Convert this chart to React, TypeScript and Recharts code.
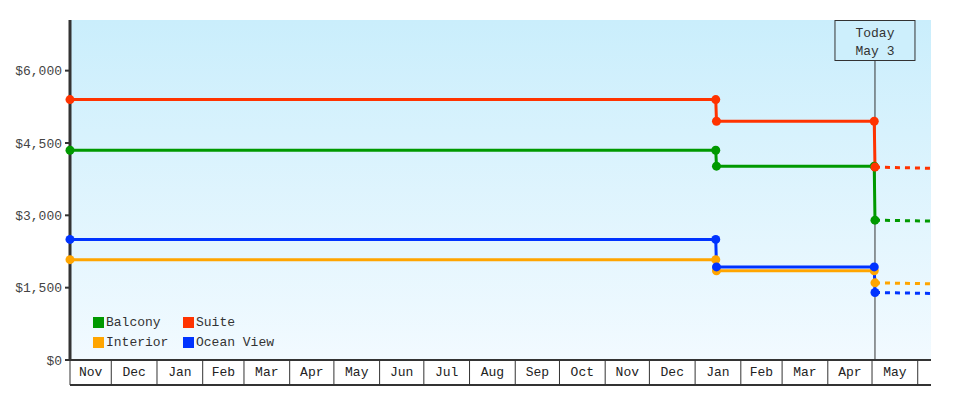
import React from "react";
import {
  LineChart,
  Line,
  XAxis,
  YAxis,
  CartesianGrid,
  ReferenceLine,
  Legend,
} from "recharts";

// price history (dates are UTC)
const changeDates = [
  "2021-11-03T00:00Z",
  "2023-01-15T00:00Z",
  "2023-01-15T12:00Z",
  "2023-05-02T12:00Z",
  "2023-05-03T00:00Z",
];
const interiorPrices = [2080, 2080, 1850, 1850, 1600];
const balconyPrices = [4350, 4350, 4020, 4020, 2900];
const oceanViewPrices = [2500, 2500, 1930, 1930, 1400];
const suitePrices = [5400, 5400, 4950, 4950, 4000];

// forecast after today
const forecastDates = ["2023-05-03T00:00Z", "2023-06-10T00:00Z"];
const interiorForecast = [1600, 1580];
const balconyForecast = [2900, 2880];
const oceanViewForecast = [1400, 1380];
const suiteForecast = [4000, 3975];

const rangeStart = "2021-11-03T00:00Z";
const rangeEnd = "2023-06-10T00:00Z";
const today = "2023-05-03T00:00Z";
const todayText = ["Today", "May 3"];

// month cells under the plot
const cellEdges = [
  "2021-11-03", "2021-12-01", "2022-01-01", "2022-02-01", "2022-03-01",
  "2022-04-01", "2022-05-01", "2022-06-01", "2022-07-01", "2022-08-01",
  "2022-09-01", "2022-10-01", "2022-11-01", "2022-12-01", "2023-01-01",
  "2023-02-01", "2023-03-01", "2023-04-01", "2023-05-01", "2023-06-01",
];
const monthLabels = [
  "Nov", "Dec", "Jan", "Feb", "Mar", "Apr", "May", "Jun", "Jul", "Aug",
  "Sep", "Oct", "Nov", "Dec", "Jan", "Feb", "Mar", "Apr", "May",
];

const yTicks = [0, 1500, 3000, 4500, 6000];

const ts = (d: string) => Date.parse(d.length === 10 ? d + "T00:00Z" : d);

const series = [
  { name: "Interior", color: "#ffa500", prices: interiorPrices, forecast: interiorForecast },
  { name: "Balcony", color: "#009900", prices: balconyPrices, forecast: balconyForecast },
  { name: "Ocean View", color: "#0033ff", prices: oceanViewPrices, forecast: oceanViewForecast },
  { name: "Suite", color: "#ff3300", prices: suitePrices, forecast: suiteForecast },
];
const legendOrder = ["Balcony", "Suite", "Interior", "Ocean View"];

const toRows = (dates: string[], values: number[]) =>
  dates.map((d, i) => ({ t: ts(d), v: values[i] }));

const edgeTicks = cellEdges.map(ts);
const labelTicks = monthLabels.map((_, i) => Math.round((edgeTicks[i] + edgeTicks[i + 1]) / 2));
const domainX = [ts(rangeStart), ts(rangeEnd)];

const FONT = "'Liberation Mono', 'DejaVu Sans Mono', monospace";

const TodayLabel = ({ viewBox }: any) => {
  const { x, y } = viewBox;
  return (
    <g>
      <rect x={x - 40} y={y + 0.5} width={80} height={40} fill="#cdeffc" stroke="#333" strokeWidth={1} />
      <text x={x} y={y + 17} textAnchor="middle" fill="#333" fontSize={13} fontFamily={FONT}>
        {todayText[0]}
      </text>
      <text x={x} y={y + 35} textAnchor="middle" fill="#333" fontSize={13} fontFamily={FONT}>
        {todayText[1]}
      </text>
    </g>
  );
};

const LegendBox = () => (
  <div
    style={{
      display: "grid",
      gridTemplateColumns: "90px 110px",
      fontFamily: FONT,
      fontSize: 13,
      color: "#333",
    }}
  >
    {legendOrder.map((name) => {
      const s = series.find((x) => x.name === name)!;
      return (
        <div key={name} style={{ display: "flex", alignItems: "center", height: 20 }}>
          <span style={{ width: 11, height: 11, background: s.color, marginRight: 2 }} />
          <span>{name}</span>
        </div>
      );
    })}
  </div>
);

export default function App() {
  return (
    <div
      style={{
        width: 980,
        height: 400,
        margin: -8,
        boxSizing: "border-box",
        border: "1px solid #e8a865",
        background: "#fff",
        fontFamily: FONT,
      }}
    >
      <LineChart width={978} height={398} margin={{ top: 19, right: 48, bottom: 0, left: 0 }}>
        <defs>
          <linearGradient id="plotBg" x1="0" y1="0" x2="0" y2="1">
            <stop offset="0%" stopColor="#caeefc" />
            <stop offset="100%" stopColor="#f2faff" />
          </linearGradient>
        </defs>
        <CartesianGrid xAxisId="a" horizontal={false} vertical={false} fill="url(#plotBg)" />
        <XAxis
          xAxisId="b"
          type="number"
          dataKey="t"
          domain={domainX}
          ticks={labelTicks}
          interval={0}
          height={14}
          tickSize={0}
          tickMargin={0}
          tickLine={false}
          tickFormatter={(_v, i) => monthLabels[i]}
          tick={{ fill: "#222", fontSize: 13, fontFamily: FONT, dy: -18 }}
          axisLine={{ stroke: "#333", strokeWidth: 2 }}
        />
        <XAxis
          xAxisId="a"
          type="number"
          dataKey="t"
          domain={domainX}
          ticks={edgeTicks}
          interval={0}
          height={25}
          tickSize={25}
          tick={() => <g />}
          axisLine={{ stroke: "#333", strokeWidth: 2 }}
          tickLine={{ stroke: "#333", strokeWidth: 1 }}
        />
        <YAxis
          type="number"
          domain={[0, 7050]}
          ticks={yTicks}
          width={69}
          tickSize={5}
          tickMargin={3}
          tickFormatter={(v) => "$" + v.toLocaleString("en-US")}
          tick={{ fill: "#444", fontSize: 13, fontFamily: FONT }}
          axisLine={{ stroke: "#333", strokeWidth: 3 }}
          tickLine={{ stroke: "#333", strokeWidth: 2 }}
        />
        <ReferenceLine
          xAxisId="a"
          x={ts(today)}
          stroke="#333"
          strokeWidth={1}
          label={<TodayLabel />}
        />
        {series.map((s) => (
          <Line
            key={s.name + "-f"}
            xAxisId="b"
            data={toRows(forecastDates, s.forecast)}
            dataKey="v"
            type="linear"
            stroke={s.color}
            strokeWidth={3}
            strokeDasharray="5 5"
            dot={false}
            activeDot={false}
            legendType="none"
            isAnimationActive={false}
          />
        ))}
        {series.map((s) => (
          <Line
            key={s.name}
            name={s.name}
            xAxisId="a"
            data={toRows(changeDates, s.prices)}
            dataKey="v"
            type="linear"
            stroke={s.color}
            strokeWidth={3}
            dot={{ r: 4.5, fill: s.color, stroke: s.color, strokeWidth: 0 }}
            activeDot={false}
            isAnimationActive={false}
          />
        ))}
        <Legend
          layout="horizontal"
          verticalAlign="middle"
          align="center"
          content={<LegendBox />}
          wrapperStyle={{ position: "absolute", left: 92, top: 311, width: "auto" }}
        />
      </LineChart>
    </div>
  );
}
